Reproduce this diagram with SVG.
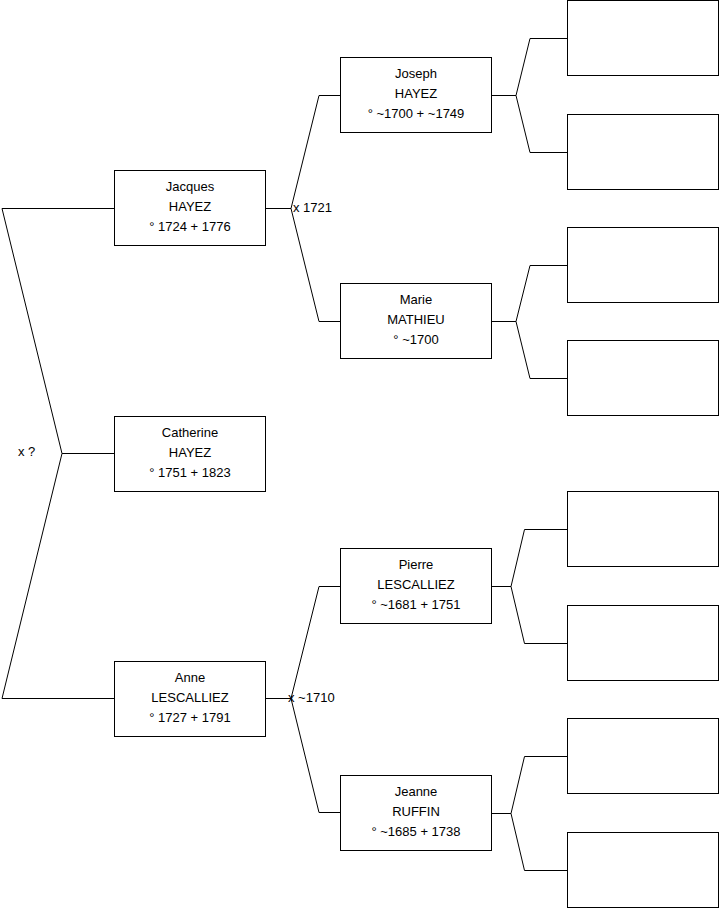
<svg xmlns="http://www.w3.org/2000/svg" width="719" height="908" viewBox="0 0 719 908">
<style>
.box{fill:#fff;stroke:#000;stroke-width:1}
.edge{fill:none;stroke:#000;stroke-width:1}
text{font-family:"Liberation Sans",Arial,sans-serif;font-size:13px;fill:#000}
.c{text-anchor:middle}
</style>
<rect width="719" height="908" fill="#fff"/>
<g id="connectors">
<path class="edge" d="M114,208.5 H2 L62,453.5 L2,698.5 H114"/>
<path class="edge" d="M62,453.5 H114"/>
<path class="edge" d="M265,208.5 H291 M340,95.5 H319 L291,208.5 L319,321.5 H340"/>
<path class="edge" d="M265,698.5 H291 M340,586.5 H319 L291,698.5 L319,812.5 H340"/>
<path class="edge" d="M491,95.5 H516 M567,38.5 H530 L516,95.5 L530,152.5 H567"/>
<path class="edge" d="M491,321.5 H516 M567,265.5 H530 L516,321.5 L530,378.5 H567"/>
<path class="edge" d="M491,586.5 H511 M567,529.5 H524.5 L511,586.5 L524.5,643.5 H567"/>
<path class="edge" d="M491,813.5 H511 M567,756.5 H524.5 L511,813.5 L524.5,870.5 H567"/>
<text x="18" y="456">x ?</text>
<text x="293" y="212">x 1721</text>
<text x="288" y="702">x ~1710</text>
</g>
<g id="catherine"><rect class="box" x="114.5" y="416.5" width="151" height="75"/><text class="c" x="190" y="437">Catherine</text><text class="c" x="190" y="457">HAYEZ</text><text class="c" x="190" y="477">° 1751 + 1823</text></g>
<g id="jacques"><rect class="box" x="114.5" y="170.5" width="151" height="75"/><text class="c" x="190" y="191">Jacques</text><text class="c" x="190" y="211">HAYEZ</text><text class="c" x="190" y="231">° 1724 + 1776</text></g>
<g id="anne"><rect class="box" x="114.5" y="661.5" width="151" height="75"/><text class="c" x="190" y="682">Anne</text><text class="c" x="190" y="702">LESCALLIEZ</text><text class="c" x="190" y="722">° 1727 + 1791</text></g>
<g id="joseph"><rect class="box" x="340.5" y="57.5" width="151" height="75"/><text class="c" x="416" y="78">Joseph</text><text class="c" x="416" y="98">HAYEZ</text><text class="c" x="416" y="118">° ~1700 + ~1749</text></g>
<g id="marie"><rect class="box" x="340.5" y="283.5" width="151" height="75"/><text class="c" x="416" y="304">Marie</text><text class="c" x="416" y="324">MATHIEU</text><text class="c" x="416" y="344">° ~1700</text></g>
<g id="pierre"><rect class="box" x="340.5" y="548.5" width="151" height="75"/><text class="c" x="416" y="569">Pierre</text><text class="c" x="416" y="589">LESCALLIEZ</text><text class="c" x="416" y="609">° ~1681 + 1751</text></g>
<g id="jeanne"><rect class="box" x="340.5" y="775.5" width="151" height="75"/><text class="c" x="416" y="796">Jeanne</text><text class="c" x="416" y="816">RUFFIN</text><text class="c" x="416" y="836">° ~1685 + 1738</text></g>
<g id="p1"><rect class="box" x="567.5" y="0.5" width="151" height="75"/></g>
<g id="p2"><rect class="box" x="567.5" y="114.5" width="151" height="75"/></g>
<g id="p3"><rect class="box" x="567.5" y="227.5" width="151" height="75"/></g>
<g id="p4"><rect class="box" x="567.5" y="340.5" width="151" height="75"/></g>
<g id="p5"><rect class="box" x="567.5" y="491.5" width="151" height="75"/></g>
<g id="p6"><rect class="box" x="567.5" y="605.5" width="151" height="75"/></g>
<g id="p7"><rect class="box" x="567.5" y="718.5" width="151" height="75"/></g>
<g id="p8"><rect class="box" x="567.5" y="832.5" width="151" height="75"/></g>
</svg>
